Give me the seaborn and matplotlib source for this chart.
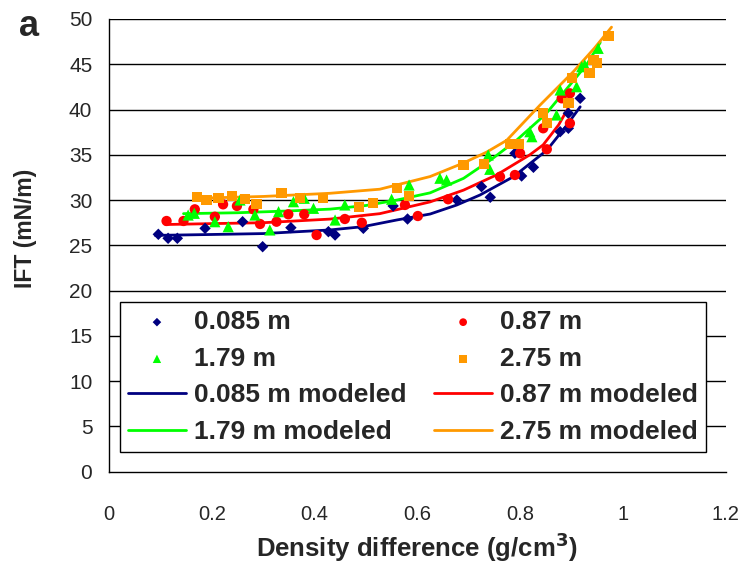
import matplotlib
matplotlib.use("Agg")
import matplotlib.pyplot as plt
import seaborn as sns
import numpy as np

# ---- data ----
x_085 = [0.096, 0.115, 0.133, 0.187, 0.260, 0.299, 0.354, 0.427, 0.440, 0.495, 0.553, 0.581,
         0.677, 0.725, 0.742, 0.790, 0.803, 0.826, 0.878, 0.894, 0.894, 0.917]
y_085 = [26.22, 25.78, 25.78, 26.88, 27.61, 24.85, 26.95, 26.51, 26.14, 26.88, 29.35, 27.91,
         30.01, 31.48, 30.31, 35.17, 32.66, 33.62, 37.55, 37.93, 39.59, 41.24]

x_087 = [0.112, 0.145, 0.167, 0.206, 0.222, 0.249, 0.281, 0.294, 0.326, 0.349, 0.380, 0.404,
         0.459, 0.492, 0.576, 0.601, 0.660, 0.761, 0.790, 0.800, 0.845, 0.852, 0.881, 0.897, 0.897]
y_087 = [27.69, 27.69, 28.98, 28.16, 29.53, 29.35, 28.98, 27.36, 27.61, 28.43, 28.43, 26.14,
         27.91, 27.50, 29.46, 28.24, 30.09, 32.58, 32.77, 35.17, 37.93, 35.61, 41.24, 41.79, 38.48]

x_179 = [0.154, 0.166, 0.206, 0.232, 0.255, 0.284, 0.313, 0.330, 0.359, 0.380, 0.398, 0.440,
         0.459, 0.550, 0.584, 0.644, 0.657, 0.738, 0.741, 0.819, 0.823, 0.871, 0.878, 0.910,
         0.920, 0.926, 0.952]
y_179 = [28.35, 28.54, 27.61, 27.06, 30.01, 28.35, 26.70, 28.72, 29.82, 30.20, 29.09, 27.80,
         29.46, 30.09, 31.67, 32.41, 32.22, 34.98, 33.40, 37.55, 37.00, 39.40, 42.16, 42.52,
         44.73, 44.92, 46.76]

x_275 = [0.171, 0.190, 0.213, 0.239, 0.265, 0.287, 0.336, 0.372, 0.417, 0.487, 0.514, 0.560,
         0.584, 0.690, 0.730, 0.780, 0.797, 0.845, 0.852, 0.894, 0.901, 0.935, 0.943, 0.950, 0.972]
y_275 = [30.31, 30.01, 30.20, 30.45, 30.09, 29.57, 30.75, 30.20, 30.20, 29.27, 29.71, 31.30,
         30.45, 33.87, 33.99, 36.19, 36.19, 39.59, 38.48, 40.69, 43.45, 44.00, 45.47, 45.11, 48.12]

xm_085 = [0.09, 0.2, 0.3, 0.43, 0.494, 0.56, 0.625, 0.677, 0.722, 0.787, 0.852, 0.89, 0.917]
ym_085 = [26.1, 26.2, 26.3, 26.7, 27.06, 27.8, 28.46, 29.46, 30.56, 32.58, 35.5, 38.2, 40.3]

xm_087 = [0.11, 0.2, 0.3, 0.43, 0.527, 0.625, 0.69, 0.755, 0.819, 0.845, 0.875, 0.9]
ym_087 = [27.3, 27.4, 27.5, 27.9, 28.5, 29.8, 31.1, 32.8, 35.0, 36.1, 38.3, 40.8]

xm_179 = [0.145, 0.25, 0.35, 0.43, 0.5, 0.56, 0.625, 0.69, 0.742, 0.793, 0.85, 0.891, 0.93, 0.956]
ym_179 = [28.5, 28.6, 28.8, 29.0, 29.4, 30.0, 30.8, 32.4, 34.4, 36.6, 39.5, 42.3, 45.0, 47.4]

xm_275 = [0.17, 0.3, 0.43, 0.527, 0.625, 0.69, 0.735, 0.774, 0.839, 0.904, 0.945, 0.978]
ym_275 = [30.2, 30.4, 30.75, 31.2, 32.6, 34.1, 35.3, 36.6, 40.5, 44.2, 46.8, 49.1]

x_ticks = [0, 0.2, 0.4, 0.6, 0.8, 1, 1.2]
x_ticklabels = ["0", "0.2", "0.4", "0.6", "0.8", "1", "1.2"]
y_ticks = [0, 5, 10, 15, 20, 25, 30, 35, 40, 45, 50]

NAVY, RED, GREEN, ORANGE = "#000080", "#FF0000", "#00FF00", "#FF9900"

sns.set_style("white")
plt.rcParams["font.family"] = ["Liberation Sans", "DejaVu Sans"]

fig = plt.figure(figsize=(7.41, 5.67), dpi=100)
ax = fig.add_axes([109 / 741, 1 - 471.7 / 567, (725.6 - 109) / 741, (471.7 - 19) / 567])

lw = 2.0
sns.lineplot(x=xm_085, y=ym_085, ax=ax, color=NAVY, lw=lw, label="0.085 m modeled", estimator=None, zorder=2)
sns.lineplot(x=xm_087, y=ym_087, ax=ax, color=RED, lw=lw, label="0.87 m modeled", estimator=None, zorder=2)
sns.lineplot(x=xm_179, y=ym_179, ax=ax, color=GREEN, lw=lw, label="1.79 m modeled", estimator=None, zorder=2)
sns.lineplot(x=xm_275, y=ym_275, ax=ax, color=ORANGE, lw=lw, label="2.75 m modeled", estimator=None, zorder=2)

sns.scatterplot(x=x_085, y=y_085, ax=ax, marker="D", s=34, color=NAVY, edgecolor="none", label="0.085 m", zorder=3)
sns.scatterplot(x=x_087, y=y_087, ax=ax, marker="o", s=55, color=RED, edgecolor="none", label="0.87 m", zorder=3)
sns.scatterplot(x=x_179, y=y_179, ax=ax, marker="^", s=65, color=GREEN, edgecolor="none", label="1.79 m", zorder=3)
sns.scatterplot(x=x_275, y=y_275, ax=ax, marker="s", s=55, color=ORANGE, edgecolor="none", label="2.75 m", zorder=3)

ax.set_xlim(0, 1.2)
ax.set_ylim(0, 50)
ax.set_xticks(x_ticks)
ax.set_xticklabels(x_ticklabels)
ax.set_yticks(y_ticks)

ax.grid(False)
for yv in y_ticks[1:]:
    ax.axhline(yv, color="black", lw=1.0, zorder=1)

for s in ["top", "right"]:
    ax.spines[s].set_visible(False)
for s in ["left", "bottom"]:
    ax.spines[s].set_color("black")
    ax.spines[s].set_linewidth(1.0)

ax.tick_params(axis="x", direction="out", length=6, width=1, color="black", labelsize=14.5, pad=18)
ax.tick_params(axis="y", direction="out", length=8, width=1, color="black", labelsize=15, pad=4)

ax.set_xlabel("Density difference (g/cm$^\\mathbf{3}$)", fontsize=18.5, fontweight="bold", labelpad=5)
ax.set_ylabel("IFT (mN/m)", fontsize=16.5, fontweight="bold")
ax.yaxis.set_label_coords((37 - 109) / 616.6, (471.7 - 228) / 452.7)

handles, labels = ax.get_legend_handles_labels()
hmap = dict(zip(labels, handles))
order = ["0.085 m", "1.79 m", "0.085 m modeled", "1.79 m modeled",
         "0.87 m", "2.75 m", "0.87 m modeled", "2.75 m modeled"]
leg = ax.legend([hmap[k] for k in order], order, ncol=2, loc="lower left",
                bbox_to_anchor=((120 - 109) / 616.6, (471.7 - 452) / 452.7),
                borderaxespad=0.0,
                frameon=True, fancybox=False, framealpha=1, edgecolor="black",
                prop={"weight": "bold", "size": 19}, handlelength=2.2, handletextpad=0.3,
                columnspacing=1.05, labelspacing=0.48, borderpad=0.3, markerscale=0.75)
leg.get_frame().set_linewidth(1.0)
leg.set_zorder(5)

fig.text(29 / 741, 1 - 27 / 567, "a", fontsize=26, fontweight="bold", ha="center", va="center")

fig.savefig("out.png", dpi=100)
